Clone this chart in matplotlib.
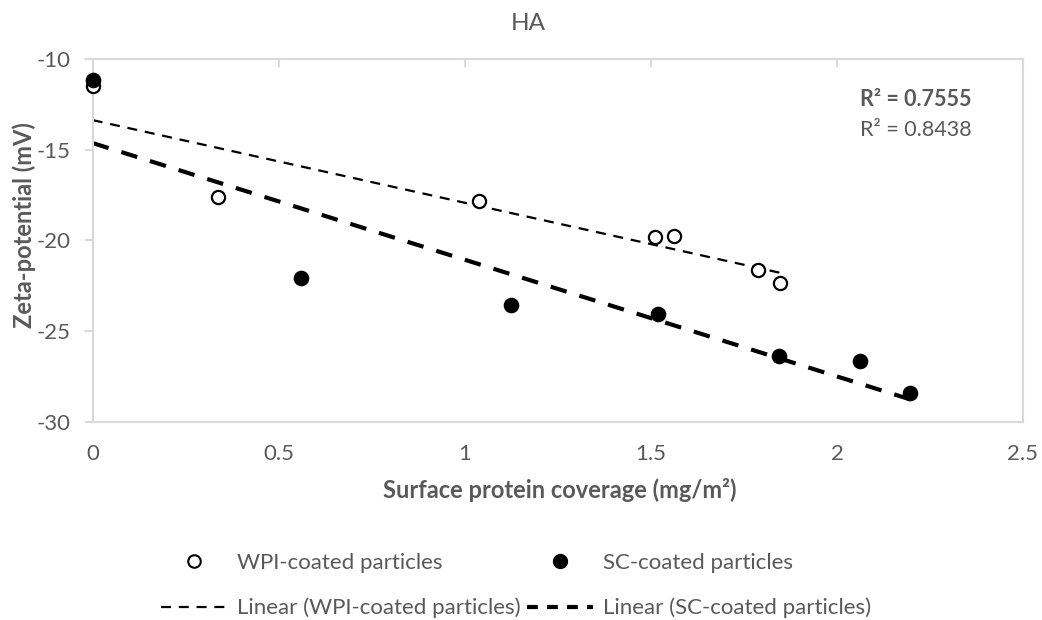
import numpy as np
import matplotlib
matplotlib.use("Agg")
import matplotlib.pyplot as plt
from matplotlib.lines import Line2D

plt.rcParams['font.family'] = ['Lato', 'DejaVu Sans']

# Data
wpi_x = [0.0, 0.337, 1.037, 1.51, 1.563, 1.788, 1.846]
wpi_y = [-11.45, -17.62, -17.81, -19.80, -19.73, -21.64, -22.34]
sc_x = [0.0, 0.561, 1.124, 1.519, 1.843, 2.063, 2.197]
sc_y = [-11.15, -22.06, -23.57, -24.07, -26.39, -26.65, -28.45]
r2_labels = ["R² = 0.7555", "R² = 0.8438"]
x_ticks = [0, 0.5, 1, 1.5, 2, 2.5]
x_ticklabels = ["0", "0.5", "1", "1.5", "2", "2.5"]
y_ticks = [-30, -25, -20, -15, -10]
y_ticklabels = ["-30", "-25", "-20", "-15", "-10"]

TXT = '#595959'
GRID = '#d9d9d9'

fig = plt.figure(figsize=(10.42, 6.2), dpi=100)
W, H = 1042, 620
ax = fig.add_axes([92.7 / W, 1 - 421.5 / H, (1023 - 92.7) / W, (421.5 - 59.3) / H])

ax.set_xlim(0, 2.5)
ax.set_ylim(-30, -10)

WPI_DASH = (4.5, 3.5)
SC_DASH = (4.0, 3.2)

# Trendlines (linear fits)
for xs, ys, lw, dash in [(wpi_x, wpi_y, 1.6, WPI_DASH), (sc_x, sc_y, 3.0, SC_DASH)]:
    p = np.polyfit(xs, ys, 1)
    xx = np.array([min(xs), max(xs)])
    ax.plot(xx, np.polyval(p, xx), color='black', lw=lw, dashes=dash, zorder=2,
            dash_capstyle='butt')

ax.scatter(wpi_x, wpi_y, s=90, facecolor='white', edgecolor='black', linewidths=1.6, zorder=3, clip_on=False)
ax.scatter(sc_x, sc_y, s=105, facecolor='black', edgecolor='black', linewidths=1.0, zorder=3, clip_on=False)

# spines / ticks
for s in ax.spines.values():
    s.set_color(GRID)
    s.set_linewidth(1.5)
ax.set_xticks(x_ticks)
ax.set_xticklabels(x_ticklabels)
ax.set_yticks(y_ticks)
ax.set_yticklabels(y_ticklabels)
ax.tick_params(axis='x', which='both', bottom=False, top=True, direction='in', length=5.5,
               color=GRID, width=1.5, labelbottom=True, pad=16, labelsize=16, labelcolor=TXT)
ax.tick_params(axis='y', which='both', left=True, direction='out', length=5.5,
               color=GRID, width=1.5, pad=10.5, labelsize=16, labelcolor=TXT)

fig.text(560 / W, 1 - 490 / H, "Surface protein coverage (mg/m²)", ha='center', va='center',
         fontsize=17, fontweight='bold', color=TXT)
fig.text(24 / W, 1 - 225 / H, "Zeta-potential (mV)", ha='center', va='center', rotation=90,
         fontsize=17, fontweight='bold', color=TXT)

fig.text(528 / W, 1 - 23 / H, "HA", ha='center', va='center', fontsize=17.5, color=TXT)

fig.text(972 / W, 1 - 100 / H, r2_labels[0], ha='right', va='center', fontsize=15.5, fontweight='bold', color=TXT)
fig.text(972 / W, 1 - 130 / H, r2_labels[1], ha='right', va='center', fontsize=15.5, color=TXT)

h_wpi = Line2D([], [], ls='none', marker='o', markersize=9, markerfacecolor='white',
               markeredgecolor='black', markeredgewidth=1.5)
h_wpi_lin = Line2D([], [], color='black', lw=1.6, dashes=WPI_DASH)
h_sc = Line2D([], [], ls='none', marker='o', markersize=10, markerfacecolor='black', markeredgecolor='black')
h_sc_lin = Line2D([], [], color='black', lw=3.0, dashes=(2.6, 2.2))

common = dict(loc='upper left', frameon=False, fontsize=16, handlelength=2.97, handletextpad=0.45,
              borderpad=0, borderaxespad=0, labelspacing=1.12, labelcolor=TXT)
leg1 = fig.legend([h_wpi, h_wpi_lin], ["WPI-coated particles", "Linear (WPI-coated particles)"],
                  bbox_to_anchor=(161 / W, 1 - 553 / H), **common)
leg2 = fig.legend([h_sc, h_sc_lin], ["SC-coated particles", "Linear (SC-coated particles)"],
                  bbox_to_anchor=(527 / W, 1 - 553 / H), **common)

fig.savefig("out.png", dpi=100)
